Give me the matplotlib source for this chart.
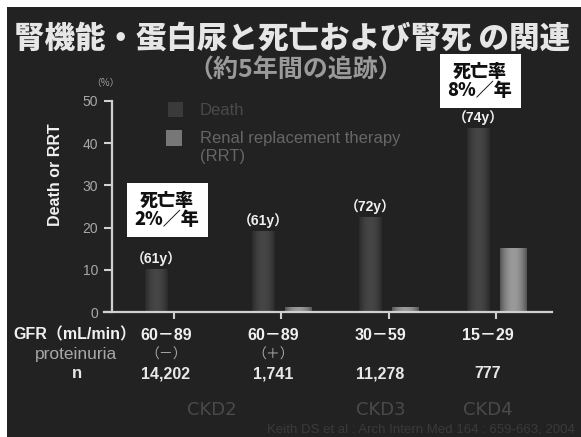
import numpy as np
import matplotlib
matplotlib.use("Agg")
import matplotlib.pyplot as plt
from matplotlib import transforms
from matplotlib.patches import Rectangle

# ---- data -------------------------------------------------------------
gfr_ranges = ["60－89", "60－89", "30－59", "15－29"]
proteinuria = ["（－）", "（＋）", "", ""]
n_patients = ["14,202", "1,741", "11,278", "777"]
mean_age = ["（61y）", "（61y）", "（72y）", "（74y）"]
death_pct = [10.0, 19.0, 22.5, 43.5]
rrt_pct = [0.2, 1.0, 1.0, 15.0]
yticks = [0, 10, 20, 30, 40, 50]
ckd_stages = ["CKD2", "CKD3", "CKD4"]
mortality_notes = ["死亡率\n2%／年", "死亡率\n8%／年"]

# ---- style ------------------------------------------------------------
W, H = 581, 437
BG = "#222222"
LATIN = ["Liberation Sans", "Noto Sans CJK JP", "DejaVu Sans"]
CJK = ["Noto Sans CJK JP", "DejaVu Sans"]
plt.rcParams["font.family"] = LATIN


def fx(px):
    return px / W


def fy(py):
    return 1 - py / H


fig = plt.figure(figsize=(W / 100, H / 100), dpi=100, facecolor="white")
# dark slide panel
fig.patches.append(Rectangle((fx(7), 0), 1, fy(7), transform=fig.transFigure,
                             facecolor=BG, edgecolor="none", zorder=-10))

ax = fig.add_axes([fx(104), fy(312), fx(552) - fx(104), fy(101) - fy(312)])
ax.set_facecolor("none")

x = np.arange(len(death_pct))
bw = 0.21
d_off, r_off = -0.168, 0.16


def gradient_bar(xc, h, w, edge, centre):
    if h <= 0:
        return
    t = np.linspace(-1, 1, 64)
    prof = 1 - t ** 2
    e = np.array(matplotlib.colors.to_rgb(edge))
    c = np.array(matplotlib.colors.to_rgb(centre))
    img = e[None, :] + prof[:, None] * (c - e)[None, :]
    img = np.repeat(img[None, :, :], 2, axis=0)
    ax.imshow(img, extent=[xc - w / 2, xc + w / 2, 0, h], aspect="auto",
              interpolation="bilinear", zorder=2)


for xi, d, r in zip(x, death_pct, rrt_pct):
    gradient_bar(xi + d_off, d, bw, "#2a2a2a", "#464646")
    gradient_bar(xi + r_off, r, bw + 0.04, "#555555", "#9a9a9a")

for xi, d, lab in zip(x, death_pct, mean_age):
    ax.annotate(lab, (xi + d_off, d), xytext=(0, 2.5), textcoords="offset points",
                ha="center", va="bottom", color="#f0f0f0", fontsize=10,
                fontweight="bold", family=LATIN)

ax.set_xlim(-0.652, 3.523)
ax.set_ylim(0, 50)
ax.set_xticks(x)
ax.set_xticklabels([])
ax.set_yticks(yticks)
ax.set_yticklabels([str(v) for v in yticks])

spine_col = "#d0d0d0"
for s in ["top", "right"]:
    ax.spines[s].set_visible(False)
ax.spines["left"].set_position(("axes", 8 / 448))
for s in ["left", "bottom"]:
    ax.spines[s].set_color(spine_col)
    ax.spines[s].set_linewidth(1.6)
ax.tick_params(axis="x", direction="out", length=5, width=1.5, color=spine_col)
ax.tick_params(axis="y", direction="out", length=6, width=1.5, color=spine_col,
               labelcolor="#a8a8a8", labelsize=10, pad=4)

# ---- titles -----------------------------------------------------------
fig.text(fx(292), fy(38), "腎機能・蛋白尿と死亡および腎死 の関連", ha="center",
         va="center", fontsize=22, fontweight="heavy", color="#e6e6e6", family=CJK)
fig.text(fx(296), fy(70), "（約5年間の追跡）", ha="center", va="center",
         fontsize=18, fontweight="bold", color="#9a9a9a", family=CJK)
fig.text(fx(105), fy(83), "（%）", ha="center", va="center", fontsize=7,
         color="#a0a0a0", family=CJK)
fig.text(fx(55), fy(175), "Death or RRT", rotation=90, ha="center", va="center",
         fontsize=11.5, fontweight="bold", color="#f0f0f0", family=LATIN)

# ---- legend -----------------------------------------------------------
fig.patches.append(Rectangle((fx(168), fy(117)), fx(15), fy(102) - fy(117),
                             transform=fig.transFigure, facecolor="#3a3a3a",
                             edgecolor="none"))
fig.patches.append(Rectangle((fx(166), fy(146)), fx(16), fy(130) - fy(146),
                             transform=fig.transFigure, facecolor="#777777",
                             edgecolor="none"))
fig.text(fx(200), fy(110), "Death", ha="left", va="center", fontsize=12,
         color="#4a4a4a")
fig.text(fx(200), fy(139), "Renal replacement therapy", ha="left", va="center",
         fontsize=12, color="#666666")
fig.text(fx(200), fy(157), "(RRT)", ha="left", va="center", fontsize=12,
         color="#666666")

# ---- mortality boxes --------------------------------------------------
box_centres = [(167, 210), (480, 81)]
for (cx, cy), note in zip(box_centres, mortality_notes):
    fig.text(fx(cx), fy(cy), note, ha="center", va="center", fontsize=13,
             fontweight="heavy", color="#111111", family=CJK, linespacing=1.0,
             bbox=dict(boxstyle="square,pad=0.45", facecolor="white",
                       edgecolor="none"))

# ---- table under the axis ---------------------------------------------
tr = transforms.blended_transform_factory(ax.transData, fig.transFigure)
col_shift = -0.075
fig.text(fx(75), fy(335), "GFR（mL/min）", ha="center", va="center",
         fontsize=11.5, fontweight="bold", color="#f0f0f0", family=LATIN)
fig.text(fx(76), fy(355), "proteinuria", ha="center", va="center",
         fontsize=12.5, color="#a8a8a8", family=LATIN)
fig.text(fx(77), fy(374), "n", ha="center", va="center", fontsize=12,
         fontweight="bold", color="#e8e8e8", family=LATIN)
for xi, g, p, n in zip(x, gfr_ranges, proteinuria, n_patients):
    ax.text(xi + col_shift, fy(335), g, transform=tr, ha="center", va="center",
            fontsize=11.5, fontweight="bold", color="#f0f0f0", family=LATIN)
    if p:
        ax.text(xi + col_shift, fy(355), p, transform=tr, ha="center",
                va="center", fontsize=10, color="#a8a8a8", family=CJK)
    ax.text(xi + col_shift, fy(374), n, transform=tr, ha="center", va="center",
            fontsize=11.5, fontweight="bold", color="#e8e8e8", family=LATIN)

# CKD stage labels: CKD2 covers the first two columns
ckd_x = [0.35, 2 + col_shift, 3 + col_shift]
for cxv, s in zip(ckd_x, ckd_stages):
    ax.text(cxv, fy(410), s, transform=tr, ha="center", va="center",
            fontsize=13, color="#4a4a4a",
            family=["Liberation Sans Narrow", "DejaVu Sans"])

fig.text(fx(575), fy(430), "Keith DS et al : Arch Intern Med 164 : 659-663, 2004",
         ha="right", va="center", fontsize=9.5, color="#3a3a3a")

fig.savefig("out.png", dpi=100, facecolor=fig.get_facecolor())
